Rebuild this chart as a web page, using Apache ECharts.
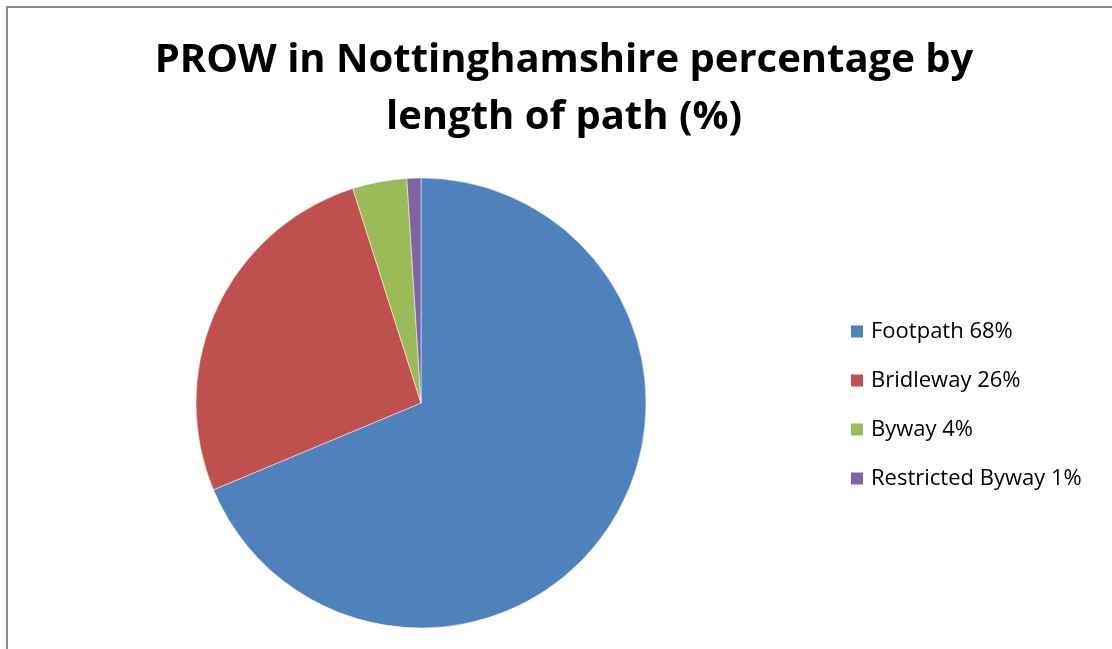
<!DOCTYPE html>
<html><head><meta charset="utf-8">
<script src="https://cdn.jsdelivr.net/npm/echarts@6/dist/echarts.min.js"></script>
<style>html,body{margin:0;padding:0;background:#fff}#c{width:1112px;height:649px}</style>
</head><body><div id="c"></div>
<script>
const categories = ['Footpath', 'Bridleway', 'Byway', 'Restricted Byway'];
const values = [68.7, 26.4, 3.9, 1.0];
const legendPct = ['68%', '26%', '4%', '1%'];
const colors = ['#4F81BD', '#C0504D', '#9BBB59', '#8064A2'];
const titleText = 'PROW in Nottinghamshire percentage by\nlength of path (%)';

const chart = echarts.init(document.getElementById('c'));
chart.setOption({
  animation: false,
  title: {
    text: titleText, left: 564, top: 32, textAlign: 'center', padding: 0,
    textStyle: {fontFamily: 'Open Sans', fontWeight: 'bold', fontSize: 40, lineHeight: 57, color: '#000'}
  },
  legend: {
    orient: 'vertical', left: 849, top: 320, padding: 0, itemWidth: 14, itemHeight: 14, itemGap: 26,
    icon: 'rect',
    textStyle: {fontFamily: 'Open Sans', fontSize: 22, lineHeight: 23, color: '#000', padding: [0,0,0,2]},
    formatter: n => n + ' ' + legendPct[categories.indexOf(n)]
  },
  graphic: [{type: 'rect', shape: {x: 7, y: 7, width: 1200, height: 800}, style: {fill: 'none', stroke: '#8c8c8c', lineWidth: 2}, silent: true}],
  series: [{
    type: 'pie', center: [421, 403], radius: 225, startAngle: 90, clockwise: true,
    label: {show: false}, labelLine: {show: false},
    itemStyle: {borderColor: '#fff', borderWidth: 0.5},
    data: categories.map((c, i) => ({name: c, value: values[i], itemStyle: {color: colors[i]}}))
  }]
});
</script></body></html>
